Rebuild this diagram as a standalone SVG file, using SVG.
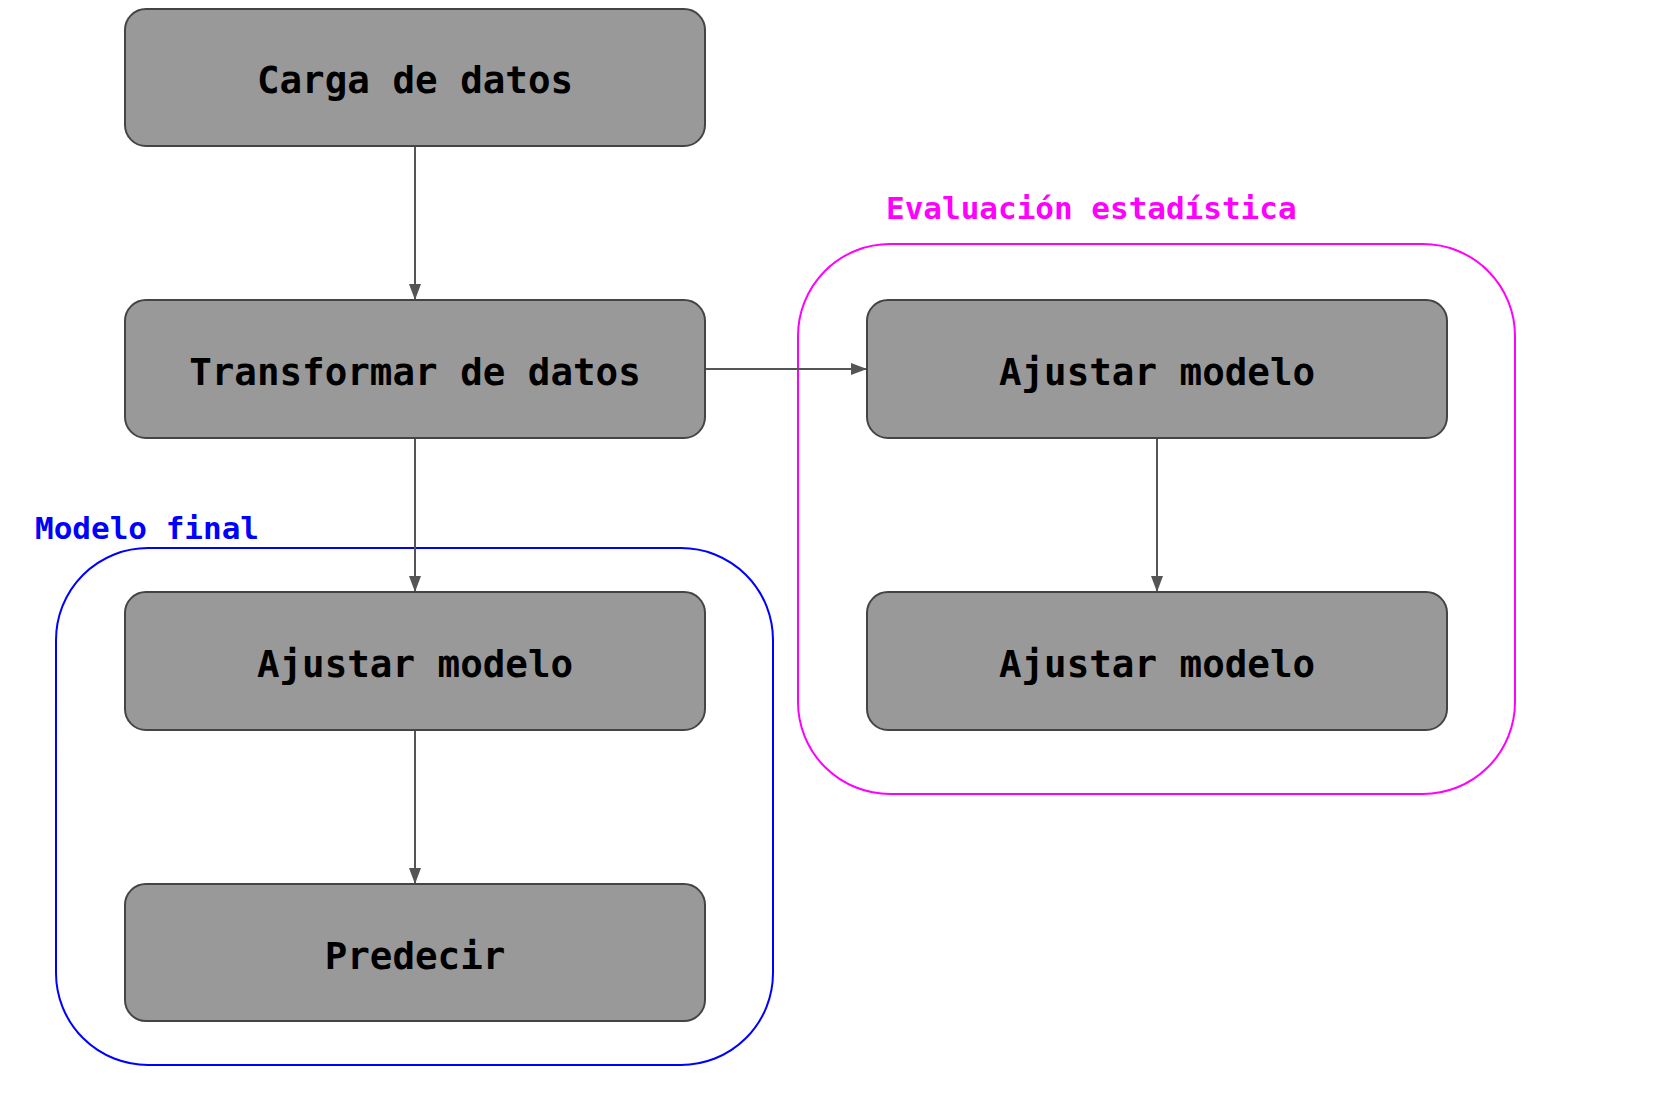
<svg xmlns="http://www.w3.org/2000/svg" width="1657" height="1093" viewBox="0 0 1657 1093">
<style>
.node rect{fill:#999999;stroke:#444444;stroke-width:2}
.node text{font-family:"DejaVu Sans Mono","Liberation Mono",monospace;font-weight:bold;font-size:37.5px;fill:#000;text-anchor:middle}
.edge{stroke:#555555;stroke-width:2;fill:none;marker-end:url(#arr)}
.clabel{font-family:"DejaVu Sans Mono","Liberation Mono",monospace;font-weight:bold;font-size:31px}
</style>
<defs>
<marker id="arr" viewBox="0 0 10 10" refX="10" refY="5" markerWidth="16" markerHeight="12" markerUnits="userSpaceOnUse" orient="auto" preserveAspectRatio="none">
<path d="M0,0 L10,5 L0,10 z" fill="#555555"/>
</marker>
</defs>
<rect width="1657" height="1093" fill="#ffffff"/>
<g id="cluster-evaluacion">
<rect x="798" y="244" width="717" height="550" rx="92" ry="92" fill="none" stroke="#ff00ff" stroke-width="2"/>
<text class="clabel" x="886" y="219" fill="#ff00ff">Evaluación estadística</text>
</g>
<g id="cluster-modelo-final">
<rect x="56" y="548" width="717" height="517" rx="92" ry="92" fill="none" stroke="#0000ff" stroke-width="2"/>
<text class="clabel" x="35" y="539" fill="#0000ff">Modelo final</text>
</g>
<g id="connectors">
<line class="edge" x1="415" y1="146" x2="415" y2="300"/>
<line class="edge" x1="415" y1="438" x2="415" y2="592"/>
<line class="edge" x1="415" y1="730" x2="415" y2="884"/>
<line class="edge" x1="705" y1="369" x2="867" y2="369"/>
<line class="edge" x1="1157" y1="438" x2="1157" y2="592"/>
</g>
<g id="node-carga" class="node">
<rect x="125" y="9" width="580" height="137" rx="21" ry="21"/>
<text x="415" y="93">Carga de datos</text>
</g>
<g id="node-transformar" class="node">
<rect x="125" y="300" width="580" height="138" rx="21" ry="21"/>
<text x="415" y="385">Transformar de datos</text>
</g>
<g id="node-ajustar-final" class="node">
<rect x="125" y="592" width="580" height="138" rx="21" ry="21"/>
<text x="415" y="677">Ajustar modelo</text>
</g>
<g id="node-predecir" class="node">
<rect x="125" y="884" width="580" height="137" rx="21" ry="21"/>
<text x="415" y="969">Predecir</text>
</g>
<g id="node-ajustar-eval-1" class="node">
<rect x="867" y="300" width="580" height="138" rx="21" ry="21"/>
<text x="1157" y="385">Ajustar modelo</text>
</g>
<g id="node-ajustar-eval-2" class="node">
<rect x="867" y="592" width="580" height="138" rx="21" ry="21"/>
<text x="1157" y="677">Ajustar modelo</text>
</g>
</svg>
